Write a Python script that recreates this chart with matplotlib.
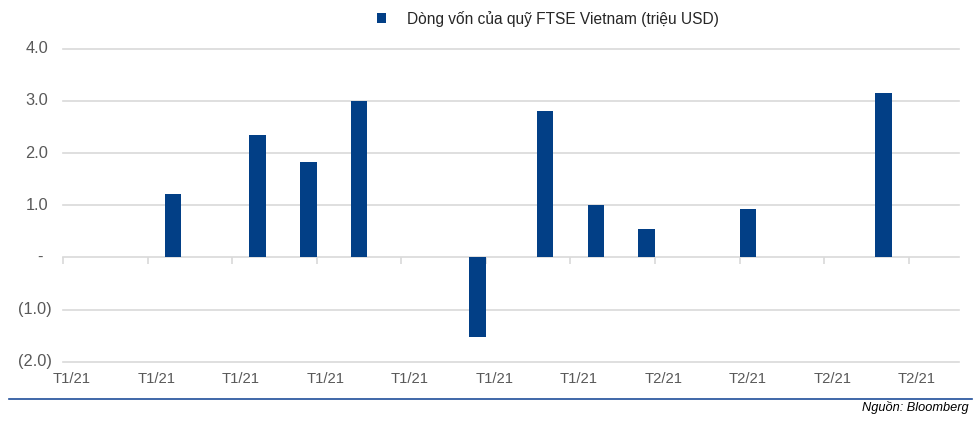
import matplotlib
matplotlib.use('Agg')
import matplotlib.pyplot as plt
from matplotlib.lines import Line2D
import numpy as np

plt.rcParams['font.family'] = ['Liberation Sans', 'DejaVu Sans']

# 53 phiên giao dịch, chỉ một số phiên có dòng vốn
n_days = 53
bar_days = [6, 11, 14, 17, 24, 28, 31, 34, 40, 48]
bar_values = [1.21, 2.35, 1.82, 2.99, -1.53, 2.81, 1.01, 0.55, 0.92, 3.16]
label_days = [0, 5, 10, 15, 20, 25, 30, 35, 40, 45, 50]
label_text = ['T1/21'] * 7 + ['T2/21'] * 4
y_ticks = [-2, -1, 0, 1, 2, 3, 4]
y_text = ['(2.0)', '(1.0)', '-', '1.0', '2.0', '3.0', '4.0']

series_name = 'Dòng vốn của quỹ FTSE Vietnam (triệu USD)'
bar_color = '#023F86'
grey_text = '#595959'
grid_color = '#D9D9D9'

flows = np.zeros(n_days)
flows[bar_days] = bar_values

fig = plt.figure(figsize=(9.76, 4.21), dpi=100)
ax = fig.add_axes([63.3 / 976, 1 - 361.7 / 421, 896 / 976, 313 / 421])

x = np.arange(n_days)
mask = flows != 0
bars = ax.bar(x[mask], flows[mask], width=0.98, color=bar_color,
              label=series_name, zorder=3)

ax.set_xlim(-0.5, n_days - 0.5)
ax.set_ylim(-2, 4)

for s in ['top', 'right', 'left']:
    ax.spines[s].set_visible(False)
ax.spines['bottom'].set_position(('data', 0))
ax.spines['bottom'].set_color(grid_color)
ax.spines['bottom'].set_linewidth(1.2)
ax.spines['bottom'].set_zorder(2)

# vạch chia giữa các nhóm 5 phiên, trên trục 0
ax.set_xticks(np.array(label_days) - 0.5)
ax.set_xticklabels([])
ax.tick_params(axis='x', direction='out', length=5, width=1.2, color=grid_color)

sec = ax.secondary_xaxis('bottom')
sec.set_xticks(label_days)
sec.set_xticklabels(label_text)
sec.tick_params(length=0, pad=7.5, labelsize=10.7, labelcolor=grey_text)
sec.spines['bottom'].set_visible(False)

ax.set_yticks(y_ticks)
ax.set_yticklabels([])
ax.tick_params(axis='y', length=0)
for v in y_ticks:
    if v != 0:
        ax.axhline(v, color=grid_color, lw=1.2, zorder=1, clip_on=False)
for v, t in zip(y_ticks, y_text):
    if t.startswith('('):
        xr = -11.6 / 896
    elif t == '-':
        xr = -21.0 / 896
    else:
        xr = -15.0 / 896
    ax.text(xr, v, t, transform=ax.get_yaxis_transform(), ha='right',
            va='center', fontsize=11.8, color=grey_text)

fig.legend(handles=[bars], loc='center left',
           bbox_to_anchor=(377.3 / 976, 1 - 18.7 / 421), frameon=False,
           borderpad=0, borderaxespad=0, handlelength=0.58, handleheight=0.58,
           handletextpad=1.35, fontsize=11.2, labelcolor='#262626')

fig.add_artist(Line2D([9 / 976, 971.7 / 976], [1 - 398.7 / 421] * 2,
                      color='#1F4E9A', lw=1.2))
fig.text(969 / 976, 1 - 407.5 / 421, 'Nguồn: Bloomberg', ha='right',
         va='center', style='italic', fontsize=9.2, color='black')

fig.savefig('out.png', dpi=100)
